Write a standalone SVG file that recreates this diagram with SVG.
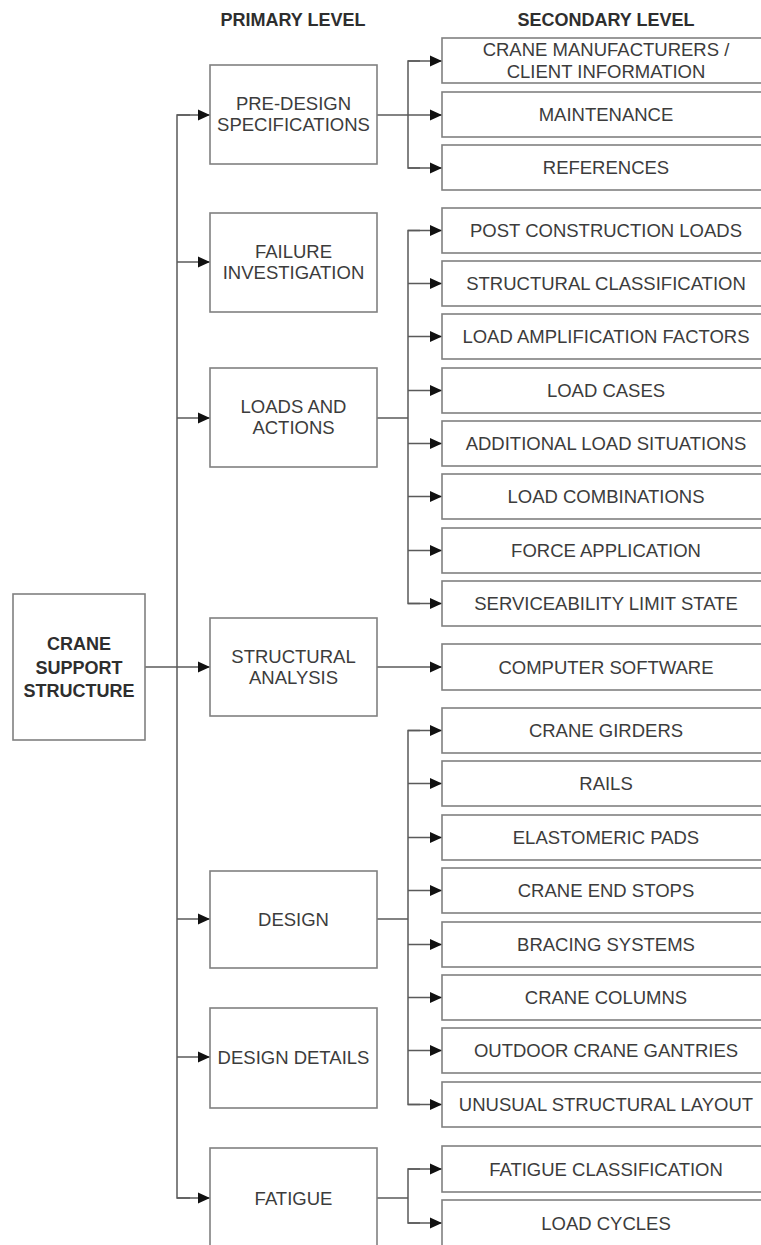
<svg xmlns="http://www.w3.org/2000/svg" width="761" height="1245" viewBox="0 0 761 1245">
<style>
.box{fill:#fff;stroke:#808080;stroke-width:1.6}
.t{font-family:"Liberation Sans",Arial,sans-serif;font-size:18.5px;fill:#3c3c3c;text-anchor:middle}
.b{font-family:"Liberation Sans",Arial,sans-serif;font-size:18px;font-weight:bold;fill:#2e2e2e;text-anchor:middle}
.c{fill:none;stroke:#5a5a5a;stroke-width:1.5}
.a{fill:none;stroke:#5a5a5a;stroke-width:1.5;marker-end:url(#arr)}
</style>
<defs>
<marker id="arr" markerUnits="userSpaceOnUse" markerWidth="13" markerHeight="12" refX="12" refY="6" orient="auto">
<path d="M0,0.5 L12,6 L0,11.5 z" fill="#111"/>
</marker>
</defs>
<rect width="761" height="1245" fill="#fff"/>
<text class="b" x="293" y="26">PRIMARY LEVEL</text>
<text class="b" x="606" y="26">SECONDARY LEVEL</text>

<g id="connectors">
<path class="c" d="M190,115 H177 V1198 H190"/>
<path class="a" d="M177,115 H210"/>
<path class="a" d="M177,262 H210"/>
<path class="a" d="M177,418 H210"/>
<path class="a" d="M145,667 H210"/>
<path class="a" d="M177,919 H210"/>
<path class="a" d="M177,1057 H210"/>
<path class="a" d="M177,1198 H210"/>
<path class="a" d="M377,115 H442"/>
<path class="c" d="M420,61 H408 V168 H420"/>
<path class="a" d="M408,61 H442"/>
<path class="a" d="M408,168 H442"/>
<path class="c" d="M377,418 H408"/>
<path class="c" d="M420,230.5 H408 V603.5 H420"/>
<path class="a" d="M408,230.5 H442"/>
<path class="a" d="M408,283.5 H442"/>
<path class="a" d="M408,336.5 H442"/>
<path class="a" d="M408,390.5 H442"/>
<path class="a" d="M408,443.5 H442"/>
<path class="a" d="M408,496.5 H442"/>
<path class="a" d="M408,550.5 H442"/>
<path class="a" d="M408,603.5 H442"/>
<path class="a" d="M377,667 H442"/>
<path class="c" d="M377,919 H408"/>
<path class="c" d="M420,730.5 H408 V1104.5 H420"/>
<path class="a" d="M408,730.5 H442"/>
<path class="a" d="M408,783.5 H442"/>
<path class="a" d="M408,837.5 H442"/>
<path class="a" d="M408,890.5 H442"/>
<path class="a" d="M408,944.5 H442"/>
<path class="a" d="M408,997.5 H442"/>
<path class="a" d="M408,1050.5 H442"/>
<path class="a" d="M408,1104.5 H442"/>
<path class="c" d="M377,1198 H408"/>
<path class="c" d="M420,1169 H408 V1223 H420"/>
<path class="a" d="M408,1169 H442"/>
<path class="a" d="M408,1223 H442"/>
</g>

<g id="crane-support">
<rect class="box" x="13" y="594" width="132" height="146"/>
<text class="b" x="79" y="650">CRANE</text>
<text class="b" x="79" y="673.5">SUPPORT</text>
<text class="b" x="79" y="697">STRUCTURE</text>
</g>

<g id="pre-design">
<rect class="box" x="210" y="65" width="167" height="99"/>
<text class="t" x="293.5" y="109.5">PRE-DESIGN</text>
<text class="t" x="293.5" y="131">SPECIFICATIONS</text>
</g>
<g id="failure">
<rect class="box" x="210" y="213" width="167" height="99"/>
<text class="t" x="293.5" y="257.5">FAILURE</text>
<text class="t" x="293.5" y="279">INVESTIGATION</text>
</g>
<g id="loads">
<rect class="box" x="210" y="368" width="167" height="99"/>
<text class="t" x="293.5" y="412.5">LOADS AND</text>
<text class="t" x="293.5" y="434">ACTIONS</text>
</g>
<g id="structural">
<rect class="box" x="210" y="618" width="167" height="98"/>
<text class="t" x="293.5" y="662.5">STRUCTURAL</text>
<text class="t" x="293.5" y="684">ANALYSIS</text>
</g>
<g id="design">
<rect class="box" x="210" y="871" width="167" height="97"/>
<text class="t" x="293.5" y="925.5">DESIGN</text>
</g>
<g id="design-details">
<rect class="box" x="210" y="1008" width="167" height="100"/>
<text class="t" x="293.5" y="1063.5">DESIGN DETAILS</text>
</g>
<g id="fatigue">
<rect class="box" x="210" y="1148" width="167" height="100"/>
<text class="t" x="293.5" y="1204.5">FATIGUE</text>
</g>

<g id="s-manufacturers">
<rect class="box" x="442" y="38" width="328" height="45"/>
<text class="t" x="606" y="55.5">CRANE MANUFACTURERS /</text>
<text class="t" x="606" y="78">CLIENT INFORMATION</text>
</g>
<g id="s-maintenance"><rect class="box" x="442" y="92" width="328" height="45"/><text class="t" x="606" y="121">MAINTENANCE</text></g>
<g id="s-references"><rect class="box" x="442" y="145" width="328" height="45"/><text class="t" x="606" y="174">REFERENCES</text></g>

<g id="s-post"><rect class="box" x="442" y="208" width="328" height="45"/><text class="t" x="606" y="237">POST CONSTRUCTION LOADS</text></g>
<g id="s-classification"><rect class="box" x="442" y="261" width="328" height="45"/><text class="t" x="606" y="290">STRUCTURAL CLASSIFICATION</text></g>
<g id="s-amplification"><rect class="box" x="442" y="314" width="328" height="45"/><text class="t" x="606" y="343">LOAD AMPLIFICATION FACTORS</text></g>
<g id="s-cases"><rect class="box" x="442" y="368" width="328" height="45"/><text class="t" x="606" y="397">LOAD CASES</text></g>
<g id="s-additional"><rect class="box" x="442" y="421" width="328" height="45"/><text class="t" x="606" y="450">ADDITIONAL LOAD SITUATIONS</text></g>
<g id="s-combinations"><rect class="box" x="442" y="474" width="328" height="45"/><text class="t" x="606" y="503">LOAD COMBINATIONS</text></g>
<g id="s-force"><rect class="box" x="442" y="528" width="328" height="45"/><text class="t" x="606" y="557">FORCE APPLICATION</text></g>
<g id="s-serviceability"><rect class="box" x="442" y="581" width="328" height="45"/><text class="t" x="606" y="610">SERVICEABILITY LIMIT STATE</text></g>

<g id="s-software"><rect class="box" x="442" y="644" width="328" height="46"/><text class="t" x="606" y="673.5">COMPUTER SOFTWARE</text></g>

<g id="s-girders"><rect class="box" x="442" y="708" width="328" height="45"/><text class="t" x="606" y="737">CRANE GIRDERS</text></g>
<g id="s-rails"><rect class="box" x="442" y="761" width="328" height="45"/><text class="t" x="606" y="790">RAILS</text></g>
<g id="s-pads"><rect class="box" x="442" y="815" width="328" height="45"/><text class="t" x="606" y="844">ELASTOMERIC PADS</text></g>
<g id="s-endstops"><rect class="box" x="442" y="868" width="328" height="45"/><text class="t" x="606" y="897">CRANE END STOPS</text></g>
<g id="s-bracing"><rect class="box" x="442" y="922" width="328" height="45"/><text class="t" x="606" y="951">BRACING SYSTEMS</text></g>
<g id="s-columns"><rect class="box" x="442" y="975" width="328" height="45"/><text class="t" x="606" y="1004">CRANE COLUMNS</text></g>
<g id="s-gantries"><rect class="box" x="442" y="1028" width="328" height="45"/><text class="t" x="606" y="1057">OUTDOOR CRANE GANTRIES</text></g>
<g id="s-unusual"><rect class="box" x="442" y="1082" width="328" height="45"/><text class="t" x="606" y="1111">UNUSUAL STRUCTURAL LAYOUT</text></g>

<g id="s-fatigue-class"><rect class="box" x="442" y="1146" width="328" height="46"/><text class="t" x="606" y="1175.5">FATIGUE CLASSIFICATION</text></g>
<g id="s-cycles"><rect class="box" x="442" y="1200" width="328" height="50"/><text class="t" x="606" y="1229.5">LOAD CYCLES</text></g>
</svg>
